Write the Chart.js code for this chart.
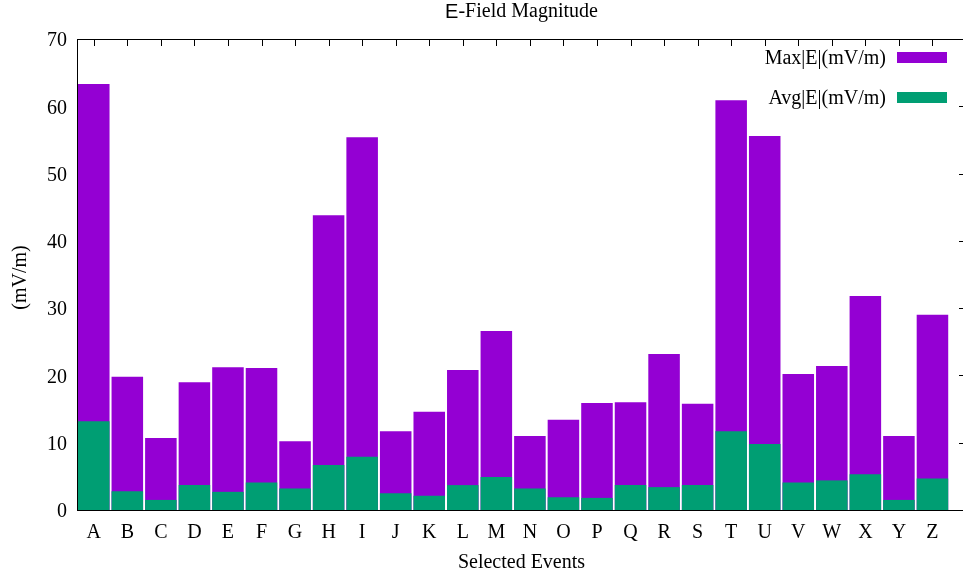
<!DOCTYPE html>
<html>
<head>
<meta charset="utf-8">
<script src="https://cdn.jsdelivr.net/npm/chart.js@4/dist/chart.umd.min.js"></script>
<style>
  html, body { margin: 0; padding: 0; background: #fff; overflow: hidden; }
  #wrap { width: 985px; height: 577px; position: relative; }
</style>
</head>
<body>
<div id="wrap"><canvas id="efield"></canvas></div>
<script>
// Evenements selectionnes (axe x)
const events = ["A","B","C","D","E","F","G","H","I","J","K","L","M",
                "N","O","P","Q","R","S","T","U","V","W","X","Y","Z"];

// Max|E| en mV/m
const maxE = [63.3, 19.8, 10.7, 19.0, 21.2, 21.1, 10.2, 43.8, 55.4, 11.7, 14.6, 20.8, 26.6,
              11.0, 13.4, 15.9, 16.0, 23.2, 15.8, 60.9, 55.6, 20.2, 21.4, 31.8, 11.0, 29.0];

// Avg|E| en mV/m
const avgE = [13.2, 2.8, 1.5, 3.7, 2.7, 4.1, 3.2, 6.7, 7.9, 2.5, 2.1, 3.7, 4.9,
              3.2, 1.9, 1.8, 3.7, 3.4, 3.7, 11.7, 9.8, 4.1, 4.4, 5.3, 1.5, 4.7];

const yTicks = [0, 10, 20, 30, 40, 50, 60, 70];

const purple = "#9400d3";
const green = "#009e73";
const serif = "'Liberation Serif', 'DejaVu Serif', serif";
const sans = "'Liberation Sans', 'DejaVu Sans', sans-serif";

function toPoints(values) {
  return values.map((v, i) => ({ x: i, y: v }));
}

// cadre, graduations interieures, titres et legende facon gnuplot
const gnuplotFrame = {
  id: "gnuplotFrame",
  beforeDatasetsDraw(chart) {
    const ctx = chart.ctx;
    const a = chart.chartArea;
    const xs = chart.scales.x;
    const ys = chart.scales.y;
    ctx.save();
    ctx.strokeStyle = "#000";
    ctx.lineWidth = 1;
    ctx.beginPath();
    events.forEach((_, i) => {
      const px = Math.round(xs.getPixelForValue(i)) + 0.5;
      ctx.moveTo(px, a.top);
      ctx.lineTo(px, a.top + 7);
      ctx.moveTo(px, a.bottom);
      ctx.lineTo(px, a.bottom - 7);
    });
    yTicks.forEach((t) => {
      const py = Math.round(ys.getPixelForValue(t)) + 0.5;
      ctx.moveTo(a.left, py);
      ctx.lineTo(a.left + 7, py);
      ctx.moveTo(a.right, py);
      ctx.lineTo(a.right - 7, py);
    });
    ctx.stroke();
    ctx.restore();
  },
  afterDatasetsDraw(chart) {
    const ctx = chart.ctx;
    const a = chart.chartArea;
    ctx.save();
    ctx.strokeStyle = "#000";
    ctx.lineWidth = 1;
    ctx.strokeRect(Math.round(a.left) + 0.5, Math.round(a.top) + 0.5,
                   Math.round(a.right - a.left), Math.round(a.bottom - a.top));

    // legende
    const rows = [["Max|E|(mV/m)", purple], ["Avg|E|(mV/m)", green]];
    ctx.font = "20px " + serif;
    ctx.textAlign = "right";
    ctx.textBaseline = "middle";
    rows.forEach((r, k) => {
      const cy = a.top + 18 + k * 40;
      ctx.fillStyle = "#000";
      ctx.fillText(r[0], a.right - 80, cy + 2);
      ctx.fillStyle = r[1];
      ctx.fillRect(a.right - 69, cy - 5, 50, 11);
    });

    // titre : le "E" est en sans-serif
    const cx = (a.left + a.right) / 2;
    ctx.textAlign = "left";
    ctx.textBaseline = "middle";
    ctx.font = "20px " + sans;
    const wE = ctx.measureText("E").width;
    ctx.font = "20px " + serif;
    const wRest = ctx.measureText("-Field Magnitude").width;
    const x0 = cx - (wE + wRest) / 2;
    ctx.fillStyle = "#000";
    ctx.font = "20px " + sans;
    ctx.fillText("E", x0, 12);
    ctx.font = "20px " + serif;
    ctx.fillText("-Field Magnitude", x0 + wE, 12);

    // titres des axes
    ctx.textAlign = "center";
    ctx.fillText("Selected Events", cx, 563);
    ctx.translate(21, (a.top + a.bottom) / 2 + 3);
    ctx.rotate(-Math.PI / 2);
    ctx.fillText("(mV/m)", 0, 0);
    ctx.restore();
  }
};

Chart.defaults.font.family = serif;
Chart.defaults.font.size = 20;
Chart.defaults.color = "#000";

const ctx = document.getElementById("efield").getContext("2d");
const myChart = new Chart(ctx, {
  type: "bar",
  data: {
    datasets: [
      {
        label: "Avg|E|(mV/m)",
        data: toPoints(avgE),
        backgroundColor: green,
        grouped: false,
        order: 0,
        barPercentage: 0.94,
        categoryPercentage: 1.0,
      },
      {
        label: "Max|E|(mV/m)",
        data: toPoints(maxE),
        backgroundColor: purple,
        grouped: false,
        order: 1,
        barPercentage: 0.94,
        categoryPercentage: 1.0,
      },
    ],
  },
  options: {
    responsive: true,
    maintainAspectRatio: false,
    animation: false,
    layout: { padding: { top: 39, right: 19, left: 0, bottom: 0 } },
    plugins: {
      legend: { display: false },
      tooltip: { enabled: false },
    },
    scales: {
      x: {
        type: "linear",
        offset: false,
        min: -0.5,
        max: 26,
        grid: { display: false, drawTicks: false },
        border: { display: false },
        afterBuildTicks: (scale) => {
          scale.ticks = events.map((_, i) => ({ value: i }));
        },
        afterFit: (scale) => { scale.height = 67; },
        ticks: {
          padding: 11,
          maxRotation: 0,
          autoSkip: false,
          callback: (v) => events[v] || "",
        },
      },
      y: {
        min: 0,
        max: 70,
        grid: { display: false, drawTicks: false },
        border: { display: false },
        afterFit: (scale) => { scale.width = 77; },
        afterBuildTicks: (scale) => {
          scale.ticks = yTicks.map((t) => ({ value: t }));
        },
        ticks: { padding: 10, labelOffset: 2 },
      },
    },
  },
  plugins: [gnuplotFrame],
});
</script>
</body>
</html>
